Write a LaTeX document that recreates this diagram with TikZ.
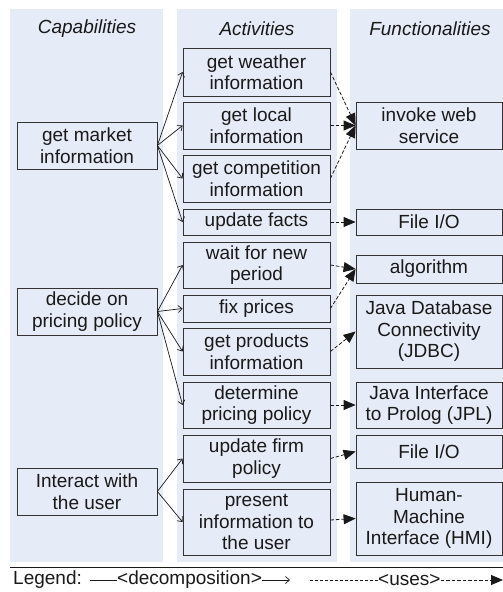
\documentclass[tikz,border=0pt]{standalone}
\usepackage{fontspec}
\setmainfont{Liberation Sans}
\usetikzlibrary{arrows.meta,calc}
\definecolor{bgblue}{HTML}{E6ECF7}
\begin{document}
\begin{tikzpicture}[x=1pt,y=-1pt,
  txt/.style={font=\fontsize{19}{21.5}\selectfont, text=black!90},
  box/.style={txt, draw=black!80, line width=0.8pt, fill=bgblue, align=center, inner sep=0pt},
  capbox/.style={box, minimum width=140pt},
  actbox/.style={box, minimum width=147pt},
  funbox/.style={box, minimum width=146pt},
  coltitle/.style={txt, font=\fontsize{19}{21.5}\selectfont\itshape},
  dec/.style={-{Straight Barb[length=4pt,width=7pt]}, line width=0.7pt, black!90},
  uses/.style={-{Triangle[length=12pt,width=10pt]}, dash pattern=on 3.5pt off 2pt, line width=0.8pt, black!90}
]
\useasboundingbox (0,0) rectangle (503,592);
% column backgrounds
\fill[bgblue] (10,9) rectangle (163,562);
\fill[bgblue] (177,9) rectangle (337,562);
\fill[bgblue] (350,9) rectangle (503,562);
% titles
\node[coltitle] (t1) at (87,29) {Capabilities};
\node[coltitle] (t2) at (257,29) {Activities};
\node[coltitle] (t3) at (430,29) {Functionalities};
% capabilities
\node[capbox, minimum height=47pt] (c1) at (87,145.5) {get market\\information};
\node[capbox, minimum height=47pt] (c2) at (87,311.5) {decide on\\pricing policy};
\node[capbox, minimum height=47pt] (c3) at (87,491.5) {Interact with\\the user};
% activities
\node[actbox, minimum height=48pt] (a1) at (256.5,72) {get weather\\information};
\node[actbox, minimum height=47pt] (a2) at (256.5,125.5) {get local\\information};
\node[actbox, minimum height=47pt] (a3) at (256.5,178.5) {get competition\\information};
\node[actbox, minimum height=26pt] (a4) at (256.5,222) {update facts};
\node[actbox, minimum height=46pt] (a5) at (256.5,265) {wait for new\\period};
\node[actbox, minimum height=27pt] (a6) at (256.5,308.5) {fix prices};
\node[actbox, minimum height=47pt] (a7) at (256.5,351.5) {get products\\information};
\node[actbox, minimum height=46pt] (a8) at (256.5,405) {determine\\pricing policy};
\node[actbox, minimum height=47pt] (a9) at (256.5,458.5) {update firm\\policy};
\node[actbox, minimum height=66pt] (a10) at (256.5,522) {present\\information to\\the user};
% functionalities
\node[funbox, minimum height=47pt] (f1) at (429,125.5) {invoke web\\service};
\node[funbox, minimum height=26pt] (f2) at (429,222) {File I/O};
\node[funbox, minimum height=28pt] (f3) at (429,269) {algorithm};
\node[funbox, minimum height=73pt] (f4) at (429,331.5) {Java Database\\Connectivity\\(JDBC)};
\node[funbox, minimum height=46pt] (f5) at (429,405) {Java Interface\\to Prolog (JPL)};
\node[funbox, minimum height=33pt] (f6) at (429,451.5) {File I/O};
\node[funbox, minimum height=73pt] (f7) at (429,518.5) {Human-\\Machine\\Interface (HMI)};
% decomposition
\foreach \a in {a1,a2,a3,a4} \draw[dec] (c1.east) -- (\a.west);
\foreach \a in {a5,a6,a7,a8} \draw[dec] (c2.east) -- (\a.west);
\foreach \a in {a9,a10} \draw[dec] (c3.east) -- (\a.west);
% uses
\draw[uses] (a1.east) -- (f1.west);
\draw[uses] (a2.east) -- (f1.west);
\draw[uses] (a3.east) -- (f1.west);
\draw[uses] (a4.east) -- (f2.west);
\draw[uses] (a5.east) -- (f3.west);
\draw[uses] (a6.east) -- (f3.west);
\draw[uses] (a7.east) -- (f4.west);
\draw[uses] (a8.east) -- (f5.west);
\draw[uses] (a9.east) -- (f6.west);
\draw[uses] ($(a10.east)+(0,-2)$) -- (f7.west);
% legend
\draw[line width=0.8pt, black!90] (10,567) -- (503,567);
\node[txt, anchor=west, inner sep=0pt] (lg) at (13,580) {Legend:};
\coordinate (ld1) at (90,580);
\node[txt, anchor=west, inner sep=0pt] (ldec) at (117,580) {<decomposition>};
\coordinate (ld2) at (290,580);
\draw[line width=0.7pt, black!90] (ld1) -- (ldec.west);
\draw[dec] (ldec.east) -- (ld2);
\coordinate (lu1) at (310,580);
\node[txt, anchor=west, inner sep=0pt] (luse) at (378,580) {<uses>};
\coordinate (lu2) at (503,580);
\draw[line width=0.7pt, black!90, dash pattern=on 3pt off 2pt] (lu1) -- (luse.west);
\draw[uses] (luse.east) -- (lu2);
\end{tikzpicture}
\end{document}
